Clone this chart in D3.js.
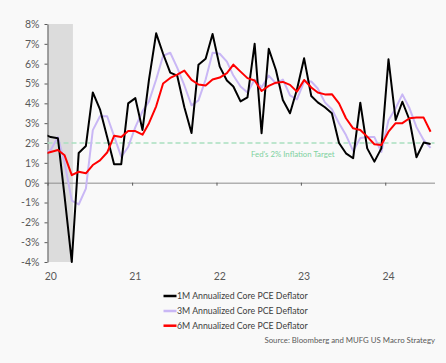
<!DOCTYPE html>
<html>
<head>
<meta charset="utf-8">
<script src="https://cdn.jsdelivr.net/npm/d3@7"></script>
<style>
  html, body { margin: 0; padding: 0; background: #f9f9f9; }
  svg { display: block; font-family: Lato, "Liberation Sans", sans-serif; }
</style>
</head>
<body>
<div id="chart"></div>
<script>
// monthly observations (Dec 2019 is clipped by the axis start)
const months = [
  "2019-12",
  "2020-01","2020-02","2020-03","2020-04","2020-05","2020-06","2020-07","2020-08","2020-09","2020-10","2020-11","2020-12",
  "2021-01","2021-02","2021-03","2021-04","2021-05","2021-06","2021-07","2021-08","2021-09","2021-10","2021-11","2021-12",
  "2022-01","2022-02","2022-03","2022-04","2022-05","2022-06","2022-07","2022-08","2022-09","2022-10","2022-11","2022-12",
  "2023-01","2023-02","2023-03","2023-04","2023-05","2023-06","2023-07","2023-08","2023-09","2023-10","2023-11","2023-12",
  "2024-01","2024-02","2024-03","2024-04","2024-05","2024-06","2024-07"
]
const oneMonth = [
  2.45,
  2.3, 2.24, -0.7, -4.0, 1.5, 1.85, 4.55, 3.7, 2.3, 0.93, 0.93, 4.0,
  4.26, 2.66, 5.2, 7.53, 6.5, 5.55, 5.4, 3.8, 2.5, 5.95, 6.25, 7.5,
  5.85, 5.15, 4.85, 4.1, 4.3, 7.0, 2.49, 6.75, 5.68, 4.17, 3.5, 4.7,
  6.27, 4.37, 4.05, 3.8, 3.5, 2.0, 1.48, 1.23, 4.03, 1.73, 1.06, 1.73,
  6.22, 3.16, 4.08, 3.16, 1.28, 2.02, 1.95
]
const threeMonth = [
  1.5,
  1.65, 2.3, 1.0, -0.9, -1.1, -0.3, 2.65, 3.35, 3.35, 2.35, 1.3, 1.8,
  2.8, 3.6, 4.1, 5.2, 6.4, 6.55, 5.8, 4.9, 3.9, 4.15, 5.2, 6.55,
  6.5, 6.1, 5.4, 4.85, 4.55, 5.2, 4.8, 5.4, 5.0, 5.2, 4.4, 4.2,
  5.1, 5.1, 4.75, 4.05, 3.7, 3.0, 2.4, 1.6, 2.25, 2.3, 2.3, 1.55,
  3.15, 3.75, 4.45, 3.75, 2.8, 2.15, 1.75
]
const sixMonth = [
  1.45,
  1.55, 1.65, 1.38, 0.38, 0.55, 0.47, 0.89, 1.12, 1.52, 2.36, 2.3, 2.6,
  2.6, 2.42, 3.0, 3.85, 5.0, 5.28, 5.45, 5.65, 5.18, 4.95, 4.9, 5.2,
  5.3, 5.52, 5.95, 5.6, 5.27, 5.15, 4.62, 4.88, 5.04, 5.08, 4.93, 4.59,
  5.18, 4.8, 4.55, 4.45, 4.46, 4.0, 3.25, 2.74, 2.66, 2.32, 1.94, 1.9,
  2.57, 3.0, 3.0, 3.25, 3.28, 3.28, 2.57
]
const seriesNames = [
  "1M Annualized Core PCE Deflator",
  "3M Annualized Core PCE Deflator",
  "6M Annualized Core PCE Deflator"
]
const yearTicks = ["2020", "2021", "2022", "2023", "2024"]
const yearLabels = ["20", "21", "22", "23", "24"]
const yTicks = [-4, -3, -2, -1, 0, 1, 2, 3, 4, 5, 6, 7, 8]
const recession = ["2020-01-01", "2020-04-20"]
const target = 2
const targetLabel = "Fed's 2% Inflation Target"
const sourceText = "Source: Bloomberg and MUFG US Macro Strategy"

// canvas
const width = 446
const height = 363
const colors = ['#000000', '#c9b7f5', '#ff0000']
const svg = d3.select('#chart').append('svg')
    .attr('width', width)
    .attr('height', height)
svg.append('rect')
    .attr('width', width)
    .attr('height', height)
    .attr('fill', '#f9f9f9')

const parseMonth = d3.timeParse('%Y-%m')
const parseDay = d3.timeParse('%Y-%m-%d')
const parseYear = d3.timeParse('%Y')
const dates = months.map(m => d3.timeDay.offset(parseMonth(m), 14))
const yearDates = yearTicks.map(d => parseYear(d))

const x = d3.scaleTime()
    .domain([parseDay('2020-01-01'), parseDay('2024-08-01')])
    .range([47.5, 434.5])
const y = d3.scaleLinear()
    .domain([-4, 8])
    .range([262, 24])

svg.append('defs').append('clipPath')
    .attr('id', 'plot-clip')
    .append('rect')
    .attr('x', x.range()[0])
    .attr('y', 0)
    .attr('width', x.range()[1] - x.range()[0])
    .attr('height', height)

// recession shading
svg.append('rect')
    .attr('x', x(parseDay(recession[0])))
    .attr('y', y(8))
    .attr('width', x(parseDay(recession[1])) - x(parseDay(recession[0])))
    .attr('height', y(-4) - y(8))
    .attr('fill', '#dcdcdc')

// x axis on the zero line
const xAxisG = svg.append('g')
    .attr('class', 'x-axis')
    .attr('transform', `translate(0, ${y(0)})`)
    .call(d3.axisBottom(x)
        .tickValues(yearDates)
        .tickFormat('')
        .tickSize(3)
        .tickSizeOuter(0))
xAxisG.select('.domain').attr('stroke', '#8c8c8c')
xAxisG.selectAll('.tick line').attr('stroke', '#595959')

// year labels sit under the middle of January
svg.append('g').selectAll('text')
    .data(yearDates)
    .join('text')
    .attr('x', d => x(d3.timeDay.offset(d, 14)))
    .attr('y', 280)
    .attr('text-anchor', 'middle')
    .attr('font-size', 10.5)
    .attr('fill', '#595959')
    .text((d, i) => yearLabels[i])

// y axis
const yAxisG = svg.append('g')
    .attr('class', 'y-axis')
    .attr('transform', `translate(${x.range()[0]}, 0)`)
    .call(d3.axisLeft(y)
        .tickValues(yTicks)
        .tickFormat(d => d + '%')
        .tickSize(3)
        .tickSizeOuter(0))
yAxisG.select('.domain').attr('stroke', '#595959')
yAxisG.selectAll('.tick line').attr('stroke', '#595959')
yAxisG.selectAll('.tick text')
    .attr('x', -8)
    .attr('font-family', 'Lato, sans-serif')
    .attr('font-size', 10.5)
    .attr('fill', '#595959')

// fed target
svg.append('line')
    .attr('x1', x.range()[0])
    .attr('x2', x.range()[1])
    .attr('y1', y(target))
    .attr('y2', y(target))
    .attr('stroke', '#a9e0c0')
    .attr('stroke-width', 1.5)
    .attr('stroke-dasharray', '5,3')
svg.append('text')
    .attr('x', 251)
    .attr('y', 157)
    .attr('font-size', 7.8)
    .attr('fill', '#7fd1a0')
    .text(targetLabel)

// series
const line = d3.line()
    .x((d, i) => x(dates[i]))
    .y(d => y(d))
const lineG = svg.append('g').attr('clip-path', 'url(#plot-clip)')
const drawOrder = [1, 0, 2]
const allSeries = [oneMonth, threeMonth, sixMonth]
for (let k of drawOrder) {
    lineG.append('path')
        .datum(allSeries[k])
        .attr('d', line)
        .attr('fill', 'none')
        .attr('stroke', colors[k])
        .attr('stroke-width', 2)
        .attr('stroke-linejoin', 'round')
}

// legend
const legG = svg.append('g')
const legY = [296, 311, 325.7]
seriesNames.forEach((name, i) => {
    legG.append('line')
        .attr('x1', 163.5)
        .attr('x2', 176.5)
        .attr('y1', legY[i])
        .attr('y2', legY[i])
        .attr('stroke', colors[i])
        .attr('stroke-width', 2.5)
    legG.append('text')
        .attr('x', 177)
        .attr('y', legY[i])
        .attr('dy', '0.35em')
        .attr('font-size', 8.75)
        .attr('fill', '#404040')
        .text(name)
})

// source
svg.append('text')
    .attr('x', 435)
    .attr('y', 343)
    .attr('text-anchor', 'end')
    .attr('font-size', 7.8)
    .attr('fill', '#595959')
    .text(sourceText)
</script>
</body>
</html>
